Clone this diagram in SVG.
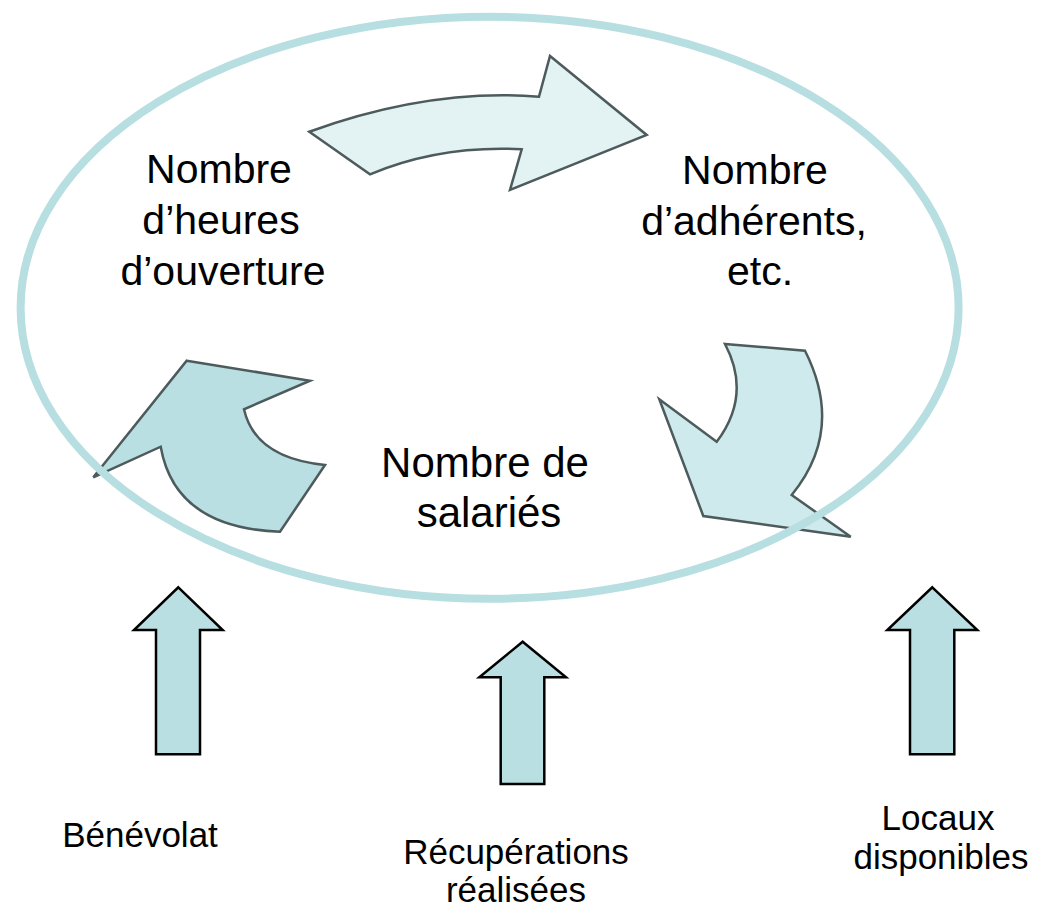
<svg xmlns="http://www.w3.org/2000/svg" width="1039" height="910" viewBox="0 0 1039 910">
<style>
.lbl{font-family:"Liberation Sans",Arial,sans-serif;fill:#000;text-anchor:middle}
.big{font-size:41px}
.small{font-size:35px}
.curv{stroke:#4D5B5C;stroke-width:2.5;stroke-linejoin:miter}
.up{fill:#B9DFE2;stroke:#000;stroke-width:2.5}
</style>
<rect width="1039" height="910" fill="#fff"/>
<g id="connectors">
<path id="arrow-top" class="curv" fill="#E3F3F4" d="M309.3,131.7 L370,174.3 Q440,145 521.7,149.3 L510,190 L646.7,135 L550,56 L539,96.7 Q430,88 309.3,131.7 Z"/>
<path id="arrow-right" class="curv" fill="#CFEAEC" d="M725,344 L805,350.7 Q845,430 791.7,495 L850.7,536.7 L703.3,516 L659.3,399.3 L716.7,441.7 Q752,395 725,344 Z"/>
<path id="arrow-left" class="curv" fill="#B9DFE3" d="M186.7,360.7 L310,380.7 L244,409.3 Q255,458 325,465 L280,531.7 Q175,528 160.7,446.7 L93.3,477.3 Z"/>
<path id="up-benevolat" class="up" d="M178.3,587.3 L222.7,630 L200,630 L200,754.3 L156,754.3 L156,630 L134,630 Z"/>
<path id="up-recuperations" class="up" d="M522.7,641.7 L566,677.3 L544.3,677.3 L544.3,784 L500.7,784 L500.7,677.3 L479.3,677.3 Z"/>
<path id="up-locaux" class="up" d="M932.3,587.3 L977.3,630 L954.3,630 L954.3,754.3 L910,754.3 L910,630 L887.3,630 Z"/>
</g>
<g id="cycle">
<ellipse cx="489.6" cy="307.7" rx="469" ry="291" fill="none" stroke="#B7DEE1" stroke-width="8"/>
</g>
<g id="node-heures">
<text class="lbl big" x="219" y="183">Nombre</text>
<text class="lbl big" x="221" y="234">d’heures</text>
<text class="lbl big" x="223" y="285">d’ouverture</text>
</g>
<g id="node-adherents">
<text class="lbl big" x="755" y="184">Nombre</text>
<text class="lbl big" x="754" y="235">d’adhérents,</text>
<text class="lbl big" x="760" y="285">etc.</text>
</g>
<g id="node-salaries">
<text class="lbl" style="font-size:42px" x="485" y="477">Nombre de</text>
<text class="lbl" style="font-size:42px" x="489" y="527">salariés</text>
</g>
<g id="node-benevolat">
<text class="lbl small" x="140" y="847">Bénévolat</text>
</g>
<g id="node-recuperations">
<text class="lbl small" x="516" y="864">Récupérations</text>
<text class="lbl small" x="516" y="902">réalisées</text>
</g>
<g id="node-locaux">
<text class="lbl small" x="938" y="830">Locaux</text>
<text class="lbl small" x="941" y="869">disponibles</text>
</g>
</svg>
